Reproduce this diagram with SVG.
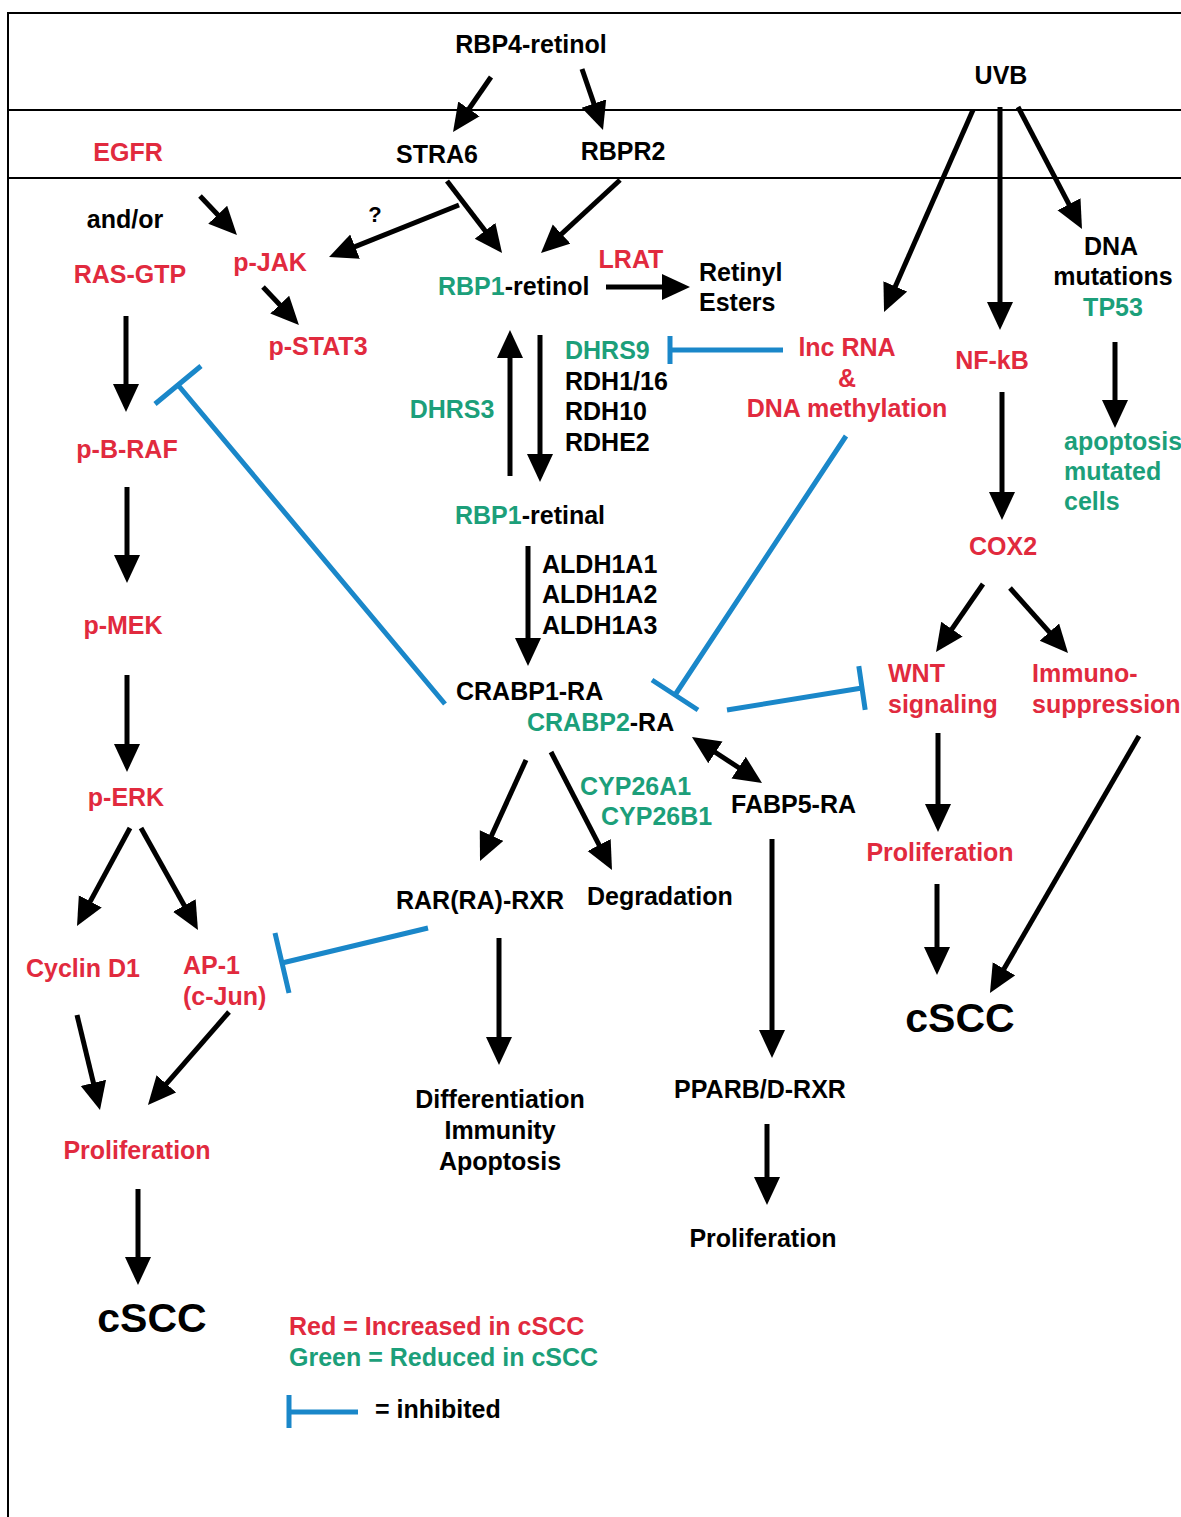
<svg xmlns="http://www.w3.org/2000/svg" width="1181" height="1517" viewBox="0 0 1181 1517">
<style>
text{font-family:"Liberation Sans",Arial,sans-serif;font-weight:bold;font-size:25px;fill:#000}
.r{fill:#e12a3e}.g{fill:#1c9f7a}
.m{text-anchor:middle}
.big{font-size:41px}
.a{stroke:#000;stroke-width:5;fill:none;marker-end:url(#ah)}
.d{stroke:#000;stroke-width:5;fill:none;marker-end:url(#ah);marker-start:url(#ah2)}
.b{stroke:#1a87c9;stroke-width:5;fill:none}
.fr{stroke:#000;stroke-width:2;fill:none}
</style>
<defs>
<marker id="ah" markerUnits="userSpaceOnUse" markerWidth="30" markerHeight="28" refX="8" refY="13" orient="auto"><path d="M0,0 L28,13 L0,26 z" fill="#000"/></marker>
<marker id="ah2" markerUnits="userSpaceOnUse" markerWidth="30" markerHeight="28" refX="8" refY="13" orient="auto-start-reverse"><path d="M0,0 L28,13 L0,26 z" fill="#000"/></marker>
</defs>
<rect width="1181" height="1517" fill="#fff"/>
<g id="frame">
<path class="fr" d="M8,1517 V13 H1181"/>
<path class="fr" d="M8,110 H1181 M8,178 H1181"/>
</g>
<g id="connectors">
<line class="a" x1="491" y1="77" x2="464.4" y2="115.5"/>
<line class="a" x1="582" y1="69" x2="596.5" y2="111.1"/>
<line class="a" x1="447" y1="181" x2="489.9" y2="237.1"/>
<line class="a" x1="459" y1="205" x2="347.6" y2="249.6"/>
<line class="a" x1="620" y1="180" x2="555.7" y2="239.4"/>
<line class="a" x1="200" y1="196" x2="223.2" y2="220.5"/>
<line class="a" x1="263" y1="287" x2="285.2" y2="310.5"/>
<line class="a" x1="126" y1="316" x2="126" y2="392"/>
<line class="a" x1="127" y1="487" x2="127" y2="563"/>
<line class="a" x1="127" y1="675" x2="127" y2="752"/>
<line class="a" x1="130" y1="828" x2="86.5" y2="908.4"/>
<line class="a" x1="141" y1="828" x2="188.2" y2="912.5"/>
<line class="a" x1="77" y1="1015" x2="95.3" y2="1090.6"/>
<line class="a" x1="229" y1="1012" x2="161.1" y2="1089.9"/>
<line class="a" x1="138" y1="1189" x2="138" y2="1265"/>
<line class="a" x1="606" y1="287" x2="670" y2="287"/>
<line class="a" x1="510" y1="476" x2="510" y2="350"/>
<line class="a" x1="540" y1="335" x2="540" y2="462"/>
<line class="a" x1="528" y1="546" x2="528" y2="646"/>
<line class="a" x1="973" y1="110" x2="892.1" y2="293.7"/>
<line class="a" x1="1000" y1="107" x2="1000" y2="310"/>
<line class="a" x1="1018" y1="107" x2="1072.7" y2="211.3"/>
<line class="a" x1="1115" y1="342" x2="1115" y2="408"/>
<line class="a" x1="1002" y1="392" x2="1002" y2="500"/>
<line class="a" x1="983" y1="584" x2="947.4" y2="635.6"/>
<line class="a" x1="1010" y1="588" x2="1054.7" y2="638.1"/>
<line class="a" x1="938" y1="733" x2="938" y2="812"/>
<line class="a" x1="937" y1="884" x2="937" y2="955"/>
<line class="a" x1="1139" y1="736" x2="1000" y2="975.7"/>
<line class="a" x1="526" y1="760" x2="488.3" y2="842.8"/>
<line class="a" x1="551" y1="752" x2="602.8" y2="852.2"/>
<line class="d" x1="708.7" y1="748" x2="745.3" y2="772"/>
<line class="a" x1="772" y1="839" x2="772" y2="1038"/>
<line class="a" x1="499" y1="938" x2="499" y2="1045"/>
<line class="a" x1="767" y1="1124" x2="767" y2="1185"/>
<path class="b" d="M783,350 H670 M670,336 V364"/>
<path class="b" d="M846,436 L675,695 M652,680 L698,710"/>
<path class="b" d="M727,710 L862,688 M858.8,666.2 L865.2,709.8"/>
<path class="b" d="M445,704 L178,385 M155,404 L201,366"/>
<path class="b" d="M428,928 L282,963 M275,933 L289,993"/>
</g>
<g id="n-rbp4"><text class="m" x="531" y="53">RBP4-retinol</text></g>
<g id="n-uvb"><text class="m" x="1001" y="84">UVB</text></g>
<g id="n-egfr"><text class="m r" x="128" y="161">EGFR</text></g>
<g id="n-stra6"><text class="m" x="437" y="163">STRA6</text></g>
<g id="n-rbpr2"><text class="m" x="623" y="160">RBPR2</text></g>
<g id="n-andor"><text class="m" x="125" y="228">and/or</text></g>
<g id="n-ras"><text class="m r" x="130" y="283">RAS-GTP</text></g>
<g id="n-jak"><text class="m r" x="270" y="271">p-JAK</text></g>
<g id="n-q"><text class="m" x="375" y="222" style="font-size:22px">?</text></g>
<g id="n-rbp1retinol"><text x="438" y="295"><tspan class="g">RBP1</tspan>-retinol</text></g>
<g id="n-lrat"><text class="m r" x="631" y="268">LRAT</text></g>
<g id="n-retinyl"><text x="699" y="281">Retinyl</text><text x="699" y="311">Esters</text></g>
<g id="n-dna"><text class="m" x="1111" y="255">DNA</text><text class="m" x="1113" y="285">mutations</text><text class="m g" x="1113" y="316">TP53</text></g>
<g id="n-stat3"><text class="m r" x="318" y="355">p-STAT3</text></g>
<g id="n-rdh"><text class="g" x="565" y="359">DHRS9</text><text x="565" y="390">RDH1/16</text><text x="565" y="420">RDH10</text><text x="565" y="451">RDHE2</text></g>
<g id="n-dhrs3"><text class="m g" x="452" y="418">DHRS3</text></g>
<g id="n-lnc"><text class="m r" x="847" y="356">lnc RNA</text><text class="m r" x="847" y="387">&amp;</text><text class="m r" x="847" y="417">DNA methylation</text></g>
<g id="n-nfkb"><text class="m r" x="992" y="369">NF-kB</text></g>
<g id="n-apop"><text class="g" x="1064" y="450">apoptosis</text><text class="g" x="1064" y="480">mutated</text><text class="g" x="1064" y="510">cells</text></g>
<g id="n-braf"><text class="m r" x="127" y="458">p-B-RAF</text></g>
<g id="n-rbp1retinal"><text x="455" y="524"><tspan class="g">RBP1</tspan>-retinal</text></g>
<g id="n-aldh"><text x="542" y="573">ALDH1A1</text><text x="542" y="603">ALDH1A2</text><text x="542" y="634">ALDH1A3</text></g>
<g id="n-cox2"><text class="m r" x="1003" y="555">COX2</text></g>
<g id="n-mek"><text class="m r" x="123" y="634">p-MEK</text></g>
<g id="n-wnt"><text class="r" x="888" y="682">WNT</text><text class="r" x="888" y="713">signaling</text></g>
<g id="n-immuno"><text class="r" x="1032" y="682">Immuno-</text><text class="r" x="1032" y="713">suppression</text></g>
<g id="n-crabp"><text x="456" y="700">CRABP1-RA</text><text x="527" y="731"><tspan class="g">CRABP2</tspan>-RA</text></g>
<g id="n-erk"><text class="m r" x="126" y="806">p-ERK</text></g>
<g id="n-cyp"><text class="g" x="580" y="795">CYP26A1</text><text class="g" x="601" y="825">CYP26B1</text></g>
<g id="n-fabp5"><text x="731" y="813">FABP5-RA</text></g>
<g id="n-prolif-r"><text class="m r" x="940" y="861">Proliferation</text></g>
<g id="n-rar"><text x="396" y="909">RAR(RA)-RXR</text></g>
<g id="n-degr"><text x="587" y="905">Degradation</text></g>
<g id="n-cyclin"><text class="r" x="26" y="977">Cyclin D1</text></g>
<g id="n-ap1"><text class="r" x="183" y="974">AP-1</text><text class="r" x="183" y="1005">(c-Jun)</text></g>
<g id="n-cscc-r"><text class="m big" x="960" y="1032">cSCC</text></g>
<g id="n-diff"><text class="m" x="500" y="1108">Differentiation</text><text class="m" x="500" y="1139">Immunity</text><text class="m" x="500" y="1170">Apoptosis</text></g>
<g id="n-ppar"><text class="m" x="760" y="1098">PPARB/D-RXR</text></g>
<g id="n-prolif-l"><text class="m r" x="137" y="1159">Proliferation</text></g>
<g id="n-prolif-m"><text class="m" x="763" y="1247">Proliferation</text></g>
<g id="n-cscc-l"><text class="m big" x="152" y="1332">cSCC</text></g>
<g id="legend">
<text class="r" x="289" y="1335">Red = Increased in cSCC</text>
<text class="g" x="289" y="1366">Green = Reduced in cSCC</text>
<path class="b" d="M289,1395 V1428 M289,1412 H358"/>
<text x="375" y="1418">= inhibited</text>
</g>
</svg>
